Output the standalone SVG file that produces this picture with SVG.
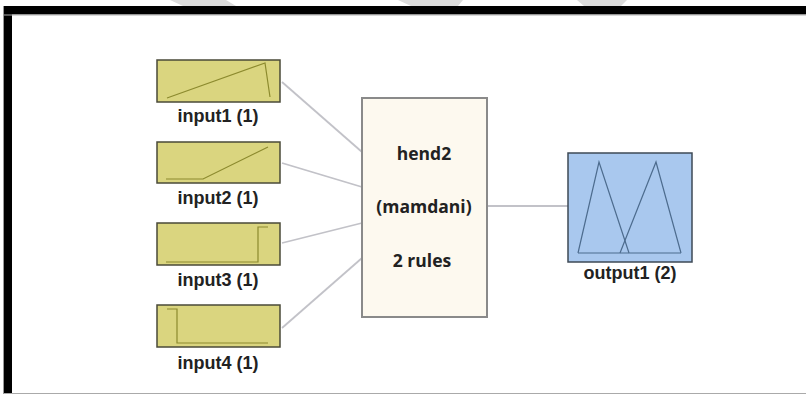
<svg xmlns="http://www.w3.org/2000/svg" width="806" height="395" viewBox="0 0 806 395">
  <style>
    .in-box { fill: #dad57f; stroke: #4a4a38; stroke-width: 1.5; }
    .in-mf { fill: none; stroke: #8c8a2e; stroke-width: 1.2; }
    .out-box { fill: #a9c8ee; stroke: #3e4a56; stroke-width: 1.5; }
    .out-mf { fill: none; stroke: #4d6c8e; stroke-width: 1.2; }
    .sys-box { fill: #fdf9ef; stroke: #8a8a8a; stroke-width: 2; }
    .label { font-family: "Liberation Sans", Arial, sans-serif; font-weight: bold; font-size: 18px; fill: #222; text-anchor: middle; }
    .sys-text { font-family: "Open Sans", "Noto Sans", sans-serif; font-weight: bold; font-size: 17.5px; fill: #222; text-anchor: middle; }
    .wire { stroke: #c2c2c8; stroke-width: 1.8; fill: none; }
    .mark { fill: #dcdcdc; }
  </style>

  <rect x="0" y="0" width="806" height="395" fill="#ffffff"/>

  <!-- faint marks above the frame -->
  <polygon class="mark" points="170,0 226,0 236,6 183,6"/>
  <polygon class="mark" points="398,0 463,0 458,6 411,6"/>
  <polygon class="mark" points="577,0 627,0 621,6 584,6"/>

  <!-- window frame -->
  <g id="frame">
    <rect x="4" y="6" width="802" height="8.5" fill="#000"/>
    <rect x="4" y="6" width="8" height="388" fill="#000"/>
    <line x1="4" y1="15" x2="806" y2="15" stroke="#b0b0b0" stroke-width="1"/>
    <line x1="4" y1="393.5" x2="806" y2="393.5" stroke="#aaaaaa" stroke-width="1.2"/>
    <line x1="3.5" y1="6" x2="3.5" y2="394" stroke="#999" stroke-width="1"/>
  </g>

  <!-- connectors -->
  <g id="connectors">
    <line class="wire" x1="282" y1="82" x2="362" y2="152"/>
    <line class="wire" x1="282" y1="163" x2="362" y2="187"/>
    <line class="wire" x1="282" y1="243" x2="362" y2="223"/>
    <line class="wire" x1="282" y1="328" x2="362" y2="258"/>
    <line class="wire" x1="487" y1="206" x2="568" y2="206"/>
  </g>

  <g id="input1">
    <rect class="in-box" x="157" y="60" width="123" height="42"/>
    <polyline class="in-mf" points="167,98 265,63 270,97"/>
    <text class="label" x="218" y="122">input1 (1)</text>
  </g>

  <g id="input2">
    <rect class="in-box" x="157" y="142" width="123" height="41"/>
    <polyline class="in-mf" points="166,179 203,179 268,147"/>
    <text class="label" x="218" y="204">input2 (1)</text>
  </g>

  <g id="input3">
    <rect class="in-box" x="157" y="223" width="123" height="42"/>
    <polyline class="in-mf" points="166,262 258,262 258,227 268,227"/>
    <text class="label" x="218" y="286">input3 (1)</text>
  </g>

  <g id="input4">
    <rect class="in-box" x="157" y="305" width="123" height="42"/>
    <polyline class="in-mf" points="167,309 177,309 177,343 268,343"/>
    <text class="label" x="218" y="369">input4 (1)</text>
  </g>

  <g id="hend2">
    <rect class="sys-box" x="362" y="98" width="125" height="219"/>
    <text class="sys-text" x="424" y="160">hend2</text>
    <text class="sys-text" x="424" y="213">(mamdani)</text>
    <text class="sys-text" x="422" y="267">2 rules</text>
  </g>

  <g id="output1">
    <rect class="out-box" x="568" y="153" width="124" height="109"/>
    <polyline class="out-mf" points="578,253 599,162 629,253"/>
    <polyline class="out-mf" points="620,253 656,162 681,253"/>
    <line class="out-mf" x1="578" y1="253" x2="681" y2="253"/>
    <text class="label" x="630" y="279">output1 (2)</text>
  </g>
</svg>
